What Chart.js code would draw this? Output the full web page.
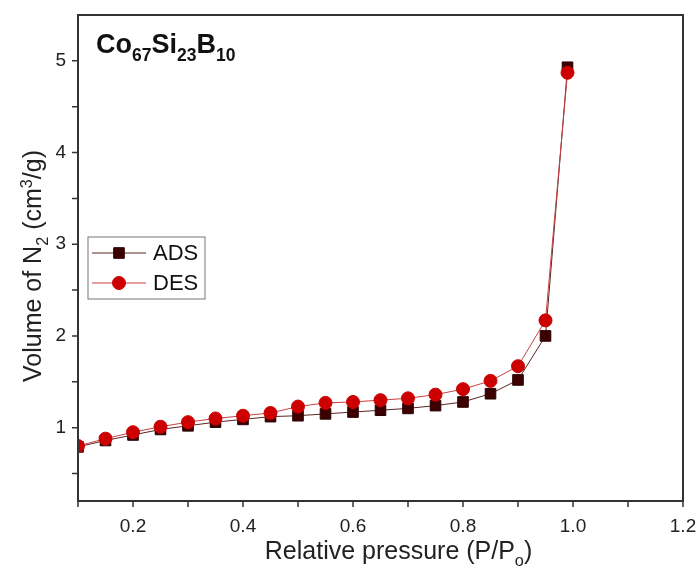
<!DOCTYPE html>
<html>
<head>
<meta charset="utf-8">
<script src="https://cdn.jsdelivr.net/npm/chart.js@4/dist/chart.umd.min.js"></script>
<style>
  body { margin: 0; background: #fff; }
  canvas { display: block; }
</style>
</head>
<body>
<canvas id="iso" width="698" height="568"></canvas>
<script>
// relative pressure P/Po
const pressure = [0.1, 0.15, 0.2, 0.25, 0.3, 0.35, 0.4, 0.45, 0.5, 0.55, 0.6, 0.65, 0.7, 0.75, 0.8, 0.85, 0.9, 0.95, 0.99]
// adsorption branch
const adsValues = [0.79, 0.86, 0.92, 0.98, 1.02, 1.06, 1.09, 1.12, 1.13, 1.15, 1.17, 1.19, 1.21, 1.24, 1.28, 1.37, 1.52, 2.00, 4.93]
// desorption branch
const desValues = [0.80, 0.88, 0.95, 1.01, 1.06, 1.10, 1.13, 1.16, 1.23, 1.27, 1.28, 1.30, 1.32, 1.36, 1.42, 1.51, 1.67, 2.17, 4.87]

const xMajorTicks = [0.2, 0.4, 0.6, 0.8, 1.0, 1.2]
const xMinorTicks = [0.1, 0.3, 0.5, 0.7, 0.9, 1.1]
const yMajorTicks = [1, 2, 3, 4, 5]
const yMinorTicks = [0.5, 1.5, 2.5, 3.5, 4.5]

const FONT = '"Liberation Sans", Arial, sans-serif'
const AXIS = '#333333'

function toPoints(ys) {
    return pressure.map((x, i) => ({ x: x, y: ys[i] }))
}

// draws text made of normal / sub / sup pieces
function richText(ctx, parts, x, y, size, bold, align) {
    const w = bold ? 'bold ' : ''
    const small = size * 0.65
    let total = 0
    parts.forEach(p => {
        ctx.font = w + (p.s ? small : size) + 'px ' + FONT
        p.w = ctx.measureText(p.t).width
        total += p.w
    })
    let cx = align === 'center' ? x - total / 2 : x
    ctx.textAlign = 'left'
    ctx.textBaseline = 'alphabetic'
    parts.forEach(p => {
        ctx.font = w + (p.s ? small : size) + 'px ' + FONT
        let dy = 0
        if (p.s === 'sub') dy = size * 0.28
        if (p.s === 'sup') dy = -size * 0.38
        ctx.fillText(p.t, cx, y + dy)
        cx += p.w
    })
}

const decor = {
    id: 'decor',
    afterDraw(chart) {
        const ctx = chart.ctx
        const a = chart.chartArea
        const xs = chart.scales.x
        const ys = chart.scales.y
        ctx.save()
        // frame
        ctx.strokeStyle = AXIS
        ctx.lineWidth = 2
        ctx.strokeRect(a.left, a.top, a.right - a.left, a.bottom - a.top)
        // tick marks
        ctx.lineWidth = 1.5
        ctx.beginPath()
        xMajorTicks.concat(xMinorTicks).forEach(v => {
            const px = xs.getPixelForValue(v)
            ctx.moveTo(px, a.bottom)
            ctx.lineTo(px, a.bottom + 6)
        })
        yMajorTicks.concat(yMinorTicks).forEach(v => {
            const py = ys.getPixelForValue(v)
            ctx.moveTo(a.left, py)
            ctx.lineTo(a.left - 6, py)
        })
        ctx.stroke()

        ctx.fillStyle = '#111'
        // sample name
        richText(ctx, [{ t: 'Co' }, { t: '67', s: 'sub' }, { t: 'Si' }, { t: '23', s: 'sub' }, { t: 'B' }, { t: '10', s: 'sub' }],
            a.left + 18, 53, 27, true, 'left')

        // x title
        ctx.fillStyle = '#222'
        richText(ctx, [{ t: 'Relative pressure (P/P' }, { t: 'o', s: 'sub' }, { t: ')' }],
            (a.left + a.right) / 2 + 18, 559, 25, false, 'center')

        // y title
        ctx.save()
        ctx.translate(41, (a.top + a.bottom) / 2 + 8)
        ctx.rotate(-Math.PI / 2)
        richText(ctx, [{ t: 'Volume of N' }, { t: '2', s: 'sub' }, { t: ' (cm' }, { t: '3', s: 'sup' }, { t: '/g)' }],
            0, 0, 25, false, 'center')
        ctx.restore()

        // legend
        const lx = a.left + 10, ly = 237, lw = 117, lh = 62
        ctx.strokeStyle = '#777'
        ctx.lineWidth = 1
        ctx.strokeRect(lx, ly, lw, lh)
        chart.data.datasets.forEach((ds, i) => {
            const row = ly + 16 + i * 30
            ctx.strokeStyle = ds.borderColor
            ctx.lineWidth = 1
            ctx.beginPath()
            ctx.moveTo(lx + 4, row)
            ctx.lineTo(lx + 58, row)
            ctx.stroke()
            ctx.fillStyle = ds.pointBackgroundColor
            ctx.strokeStyle = ds.pointBorderColor
            Chart.helpers.drawPoint(ctx, { pointStyle: ds.pointStyle, radius: ds.pointRadius, rotation: 0, borderWidth: 1 }, lx + 31, row)
            ctx.fillStyle = '#111'
            ctx.font = '22px ' + FONT
            ctx.textAlign = 'left'
            ctx.textBaseline = 'middle'
            ctx.fillText(ds.label, lx + 65, row + 1)
        })
        ctx.restore()
    }
}

new Chart(document.getElementById('iso'), {
    type: 'scatter',
    data: {
        datasets: [
            {
                label: 'ADS',
                data: toPoints(adsValues),
                showLine: true,
                borderColor: '#5a2424',
                borderWidth: 1,
                pointStyle: 'rect',
                pointRadius: 7.5,
                pointBackgroundColor: '#3d0000',
                pointBorderColor: '#2a0000',
                pointBorderWidth: 1,
                order: 2
            },
            {
                label: 'DES',
                data: toPoints(desValues),
                showLine: true,
                borderColor: '#c84040',
                borderWidth: 1,
                pointStyle: 'circle',
                pointRadius: 6.5,
                pointBackgroundColor: '#cc0000',
                pointBorderColor: '#cc0000',
                pointBorderWidth: 1,
                order: 1
            }
        ]
    },
    options: {
        responsive: false,
        animation: false,
        layout: { padding: { top: 15, right: 15, left: 0, bottom: 0 } },
        plugins: { legend: { display: false }, tooltip: { enabled: false } },
        scales: {
            x: {
                type: 'linear',
                min: 0.1,
                max: 1.2,
                afterBuildTicks: s => { s.ticks = xMajorTicks.map(v => ({ value: v })) },
                afterFit: s => { s.height = 67; s.paddingLeft = 0; s.paddingRight = 0 },
                grid: { display: false, drawTicks: false },
                border: { display: false },
                ticks: {
                    padding: 14,
                    color: '#222',
                    font: { family: FONT, size: 19 },
                    callback: v => v.toFixed(1)
                }
            },
            y: {
                type: 'linear',
                min: 0.2,
                max: 5.5,
                afterBuildTicks: s => { s.ticks = yMajorTicks.map(v => ({ value: v })) },
                afterFit: s => { s.width = 78; s.paddingTop = 0; s.paddingBottom = 0 },
                grid: { display: false, drawTicks: false },
                border: { display: false },
                ticks: {
                    padding: 12,
                    color: '#222',
                    font: { family: FONT, size: 19 },
                    callback: v => String(v)
                }
            }
        }
    },
    plugins: [decor]
})
</script>
</body>
</html>
